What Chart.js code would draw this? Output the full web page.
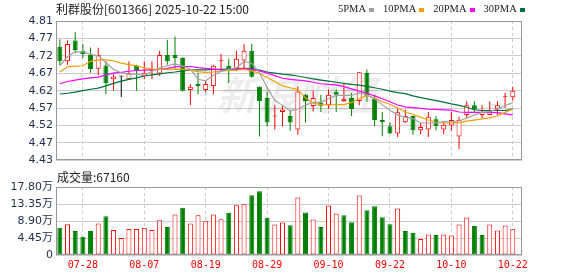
<!DOCTYPE html>
<html>
<head>
<meta charset="utf-8">
<script src="https://cdn.jsdelivr.net/npm/chart.js@4.4.1/dist/chart.umd.min.js"></script>
<style>
    body { margin: 0; background: #fff; }
    #wrap { position: relative; width: 578px; height: 276px; overflow: hidden; }
    #kline { position: absolute; left: 0; top: 0; }
    #vol { position: absolute; left: 0; top: 170px; }
</style>
</head>
<body>
<div id="wrap">
    <canvas id="kline" width="578" height="170"></canvas>
    <canvas id="vol" width="578" height="106"></canvas>
</div>
<script>
// --- dados ---
const titulo = '利群股份[601366] 2025-10-22 15:00';

const dias = ['07-23','07-24','07-25','07-28','07-29','07-30','07-31','08-01','08-04','08-05',
    '08-06','08-07','08-08','08-11','08-12','08-13','08-14','08-15','08-18','08-19',
    '08-20','08-21','08-22','08-25','08-26','08-27','08-28','08-29','09-01','09-02',
    '09-03','09-04','09-05','09-08','09-09','09-10','09-11','09-12','09-15','09-16',
    '09-17','09-18','09-19','09-22','09-23','09-24','09-25','09-26','09-29','09-30',
    '10-09','10-10','10-13','10-14','10-15','10-16','10-17','10-20','10-21','10-22'];
const diasEixo = ['07-28','08-07','08-19','08-29','09-10','09-22','10-10','10-22'];

const abertura = [4.740,4.700,4.757,4.729,4.717,4.680,4.689,4.651,4.659,4.651,
    4.688,4.660,4.673,4.667,4.717,4.717,4.709,4.622,4.638,4.622,
    4.633,4.700,4.688,4.678,4.702,4.729,4.631,4.600,4.550,4.562,
    4.551,4.514,4.609,4.578,4.587,4.580,4.617,4.592,4.600,4.592,
    4.668,4.598,4.540,4.523,4.503,4.534,4.551,4.512,4.514,4.542,
    4.514,4.525,4.495,4.554,4.580,4.554,4.554,4.571,4.602,4.602];
const maximas = [4.760,4.757,4.779,4.747,4.738,4.737,4.700,4.667,4.660,4.700,
    4.691,4.700,4.700,4.729,4.759,4.768,4.711,4.638,4.669,4.647,
    4.691,4.720,4.707,4.729,4.747,4.747,4.632,4.618,4.580,4.580,
    4.567,4.631,4.611,4.620,4.609,4.623,4.624,4.638,4.614,4.671,
    4.678,4.609,4.562,4.534,4.571,4.569,4.552,4.532,4.562,4.551,
    4.536,4.562,4.549,4.591,4.591,4.580,4.591,4.591,4.614,4.631];
const minimas = [4.690,4.691,4.722,4.709,4.669,4.662,4.611,4.620,4.603,4.651,
    4.620,4.651,4.651,4.660,4.691,4.678,4.618,4.581,4.610,4.616,
    4.610,4.673,4.642,4.673,4.678,4.655,4.495,4.522,4.514,4.523,
    4.511,4.500,4.533,4.563,4.562,4.571,4.562,4.590,4.551,4.580,
    4.590,4.523,4.496,4.502,4.494,4.532,4.500,4.501,4.494,4.512,
    4.501,4.511,4.461,4.545,4.562,4.545,4.553,4.554,4.573,4.593];
const fecho = [4.700,4.747,4.731,4.720,4.679,4.717,4.640,4.659,4.659,4.667,
    4.673,4.669,4.679,4.717,4.700,4.709,4.620,4.631,4.632,4.638,
    4.688,4.702,4.678,4.707,4.729,4.658,4.591,4.533,4.551,4.569,
    4.533,4.618,4.592,4.600,4.579,4.609,4.609,4.598,4.570,4.670,
    4.605,4.540,4.534,4.503,4.561,4.551,4.512,4.521,4.549,4.523,
    4.527,4.540,4.540,4.580,4.569,4.562,4.561,4.580,4.604,4.620];

const ma5 = [4.688,4.713,4.726,4.726,4.719,4.715,4.697,4.678,4.669,4.665,
    4.665,4.662,4.673,4.682,4.688,4.693,4.687,4.679,4.651,4.647,
    4.662,4.673,4.678,4.682,4.700,4.695,4.669,4.629,4.594,4.580,
    4.565,4.570,4.581,4.588,4.588,4.598,4.607,4.607,4.607,4.614,
    4.609,4.598,4.582,4.567,4.554,4.548,4.544,4.532,4.532,4.532,
    4.536,4.535,4.538,4.545,4.554,4.561,4.563,4.570,4.579,4.588];
const ma10 = [4.671,4.685,4.687,4.688,4.700,4.704,4.704,4.701,4.695,4.691,
    4.688,4.682,4.679,4.678,4.678,4.679,4.678,4.676,4.672,4.670,
    4.671,4.673,4.675,4.676,4.678,4.674,4.667,4.656,4.645,4.633,
    4.628,4.623,4.600,4.586,4.582,4.581,4.582,4.582,4.588,4.598,
    4.607,4.600,4.590,4.583,4.573,4.562,4.555,4.548,4.540,4.534,
    4.532,4.532,4.533,4.537,4.540,4.543,4.546,4.551,4.561,4.570];
const ma20 = [4.639,4.645,4.649,4.652,4.655,4.657,4.663,4.668,4.670,4.673,
    4.675,4.676,4.677,4.678,4.681,4.685,4.686,4.686,4.683,4.681,
    4.679,4.677,4.676,4.678,4.681,4.678,4.674,4.668,4.661,4.654,
    4.651,4.649,4.647,4.643,4.639,4.637,4.636,4.631,4.625,4.619,
    4.613,4.606,4.598,4.590,4.581,4.576,4.574,4.572,4.570,4.569,
    4.568,4.567,4.562,4.561,4.561,4.561,4.561,4.560,4.557,4.554];
const ma30 = [4.611,4.613,4.616,4.620,4.624,4.627,4.633,4.640,4.646,4.651,
    4.655,4.660,4.663,4.666,4.669,4.671,4.674,4.676,4.677,4.677,
    4.678,4.678,4.679,4.680,4.681,4.680,4.676,4.671,4.668,4.665,
    4.663,4.660,4.656,4.652,4.649,4.646,4.643,4.640,4.637,4.635,
    4.632,4.628,4.624,4.619,4.615,4.612,4.606,4.601,4.597,4.593,
    4.589,4.584,4.580,4.575,4.568,4.566,4.566,4.566,4.566,4.570];

// volume em 万 (10 mil)
const volume = [7.12,8.08,6.25,4.78,6.25,8.25,10.16,6.52,4.43,6.78,
    6.78,7.12,6.52,9.12,7.30,10.60,12.34,8.25,10.42,8.86,
    10.60,9.38,11.03,13.03,13.29,15.64,16.68,9.73,7.99,8.51,
    7.82,15.03,11.12,9.30,7.30,12.94,10.86,10.42,8.60,15.55,
    11.73,12.77,9.90,8.08,12.16,6.25,5.73,4.17,5.39,5.21,
    5.39,5.13,7.99,9.82,7.56,5.21,7.99,6.43,7.73,6.716];
// 1 = barra vermelha (subida), 0 = verde
const volSobe = [0,1,0,0,0,1,0,1,1,1, 1,1,1,1,0,1,0,1,1,1, 1,1,0,1,1,0,0,0,1,1,
    0,1,0,1,0,1,1,0,0,1, 0,0,0,0,1,0,0,1,1,0, 1,1,1,1,0,0,1,1,1,1];

const precoMin = 4.43, precoMax = 4.81;
const precoTicks = ['4.43','4.47','4.52','4.57','4.62','4.67','4.72','4.77','4.81'];
const volMax = 17.8;
const volTicks = ['0','4.45万','8.90万','13.35万','17.80万'];
const mediasNomes = ['5PMA','10PMA','20PMA','30PMA'];

// --- cores ---
const VERMELHO = '#ff0000', VERDE = '#008000', PRETO = '#000000';
const coresMedias = ['#a0a0a0', '#f2a000', '#ff00ff', '#006f3a'];
const corTicks = '#1f2d4d';
const corGrelha = '#cccccc';

const posEixo = diasEixo.map(d => dias.indexOf(d));

function corVela(i) {
    if (fecho[i] > abertura[i]) return VERMELHO;
    if (fecho[i] < abertura[i]) return VERDE;
    return PRETO;
}
const coresVelas = dias.map((d, i) => corVela(i));
const fundoVelas = dias.map((d, i) => coresVelas[i] === VERDE ? VERDE : '#ffffff');

const molduraPlugin = {
    id: 'moldura',
    afterDraw(chart) {
        const { ctx, chartArea: a } = chart;
        ctx.save();
        ctx.strokeStyle = '#999999';
        ctx.lineWidth = 1;
        ctx.strokeRect(Math.round(a.left) + 0.5, Math.round(a.top) + 0.5,
            Math.round(a.right - a.left) - 1, Math.round(a.bottom - a.top) - 1);
        ctx.restore();
    }
};

const cabecalhoPlugin = {
    id: 'cabecalho',
    beforeDatasetsDraw(chart) {
        // marca de água
        const ctx = chart.ctx;
        ctx.save();
        ctx.font = 'italic bold 40px "Noto Sans CJK SC"';
        ctx.fillStyle = 'rgba(0,0,0,0.07)';
        ctx.textBaseline = 'alphabetic';
        ctx.fillText('新浪财经', 217, 110);
        ctx.restore();
    },
    afterDraw(chart) {
        const ctx = chart.ctx;
        ctx.save();
        ctx.textBaseline = 'alphabetic';
        ctx.font = '12px "Noto Sans CJK SC"';
        ctx.fillStyle = '#222222';
        ctx.fillText(titulo, 56, 14);

        ctx.font = '10.5px "Liberation Serif"';
        let x = 338;
        mediasNomes.forEach((nome, k) => {
            ctx.fillStyle = '#222222';
            ctx.fillText(nome, x, 12);
            x += ctx.measureText(nome).width + 3;
            ctx.fillStyle = coresMedias[k];
            ctx.fillRect(Math.round(x), 8, 5, 4);
            x += 5 + 9;
        });
        ctx.restore();
    }
};

const volCabecalhoPlugin = {
    id: 'volCabecalho',
    afterDraw(chart) {
        const ctx = chart.ctx;
        ctx.save();
        ctx.textBaseline = 'alphabetic';
        ctx.font = '12px "Noto Sans CJK SC"';
        ctx.fillStyle = '#222222';
        ctx.fillText('成交量:' + Math.round(volume[volume.length - 1] * 10000), 57, 12);
        ctx.restore();
    }
};

function eixoX(mostrarLabels) {
    return {
        type: 'linear',
        offset: false,
        min: -0.5,
        max: 60.2,
        afterBuildTicks: s => { s.ticks = posEixo.map(v => ({ value: v })); },
        afterFit: s => { s.height = mostrarLabels ? 21 : 0; },
        ticks: {
            display: mostrarLabels,
            autoSkip: false,
            maxRotation: 0,
            padding: 4,
            color: VERMELHO,
            font: { family: '"DejaVu Sans Mono"', size: 10 },
            callback: (v, k) => diasEixo[k]
        },
        grid: { color: corGrelha, drawTicks: false, offset: false },
        border: { display: false, dash: [3, 3] }
    };
}

// --- gráfico de velas ---
new Chart(document.getElementById('kline'), {
    data: {
        datasets: [
            ...mediasNomes.map((nome, k) => ({
                type: 'line',
                label: nome,
                data: [ma5, ma10, ma20, ma30][k].map((v, i) => ({ x: i, y: v })),
                borderColor: coresMedias[k],
                borderWidth: 1.2,
                pointRadius: 0,
                order: 0
            })),
            {
                type: 'bar',
                label: 'corpo',
                data: abertura.map((o, i) => ({ x: i, y: [o, fecho[i]] })),
                backgroundColor: fundoVelas,
                borderColor: coresVelas,
                borderWidth: 1,
                borderSkipped: false,
                minBarLength: 1,
                grouped: false,
                barPercentage: 0.8,
                categoryPercentage: 1,
                maxBarThickness: 5,
                order: 1
            },
            {
                type: 'bar',
                label: 'sombra',
                data: abertura.map((o, i) => ({ x: i, y: [minimas[i], maximas[i]] })),
                backgroundColor: coresVelas,
                borderWidth: 0,
                grouped: false,
                barPercentage: 0.5,
                categoryPercentage: 1,
                maxBarThickness: 1,
                order: 2
            }
        ]
    },
    options: {
        responsive: false,
        animation: false,
        devicePixelRatio: 1,
        layout: { padding: { top: 21, right: 56, bottom: 5, left: 0 } },
        plugins: { legend: { display: false }, tooltip: { enabled: false } },
        scales: {
            x: eixoX(false),
            y: {
                min: precoMin,
                max: precoMax,
                afterBuildTicks: s => {
                    s.ticks = precoTicks.map((t, k) => ({ value: precoMin + k * (precoMax - precoMin) / (precoTicks.length - 1) }));
                },
                afterFit: s => { s.width = 56; },
                ticks: {
                    autoSkip: false,
                    padding: 3,
                    color: corTicks,
                    font: { family: '"DejaVu Sans"', size: 11 },
                    callback: (v, k) => precoTicks[k]
                },
                grid: { color: corGrelha, drawTicks: false },
                border: { display: false }
            }
        }
    },
    plugins: [cabecalhoPlugin, molduraPlugin]
});

// --- gráfico de volume ---
new Chart(document.getElementById('vol'), {
    type: 'bar',
    data: {
        datasets: [{
            label: '成交量',
            data: volume.map((v, i) => ({ x: i, y: v })),
            backgroundColor: volSobe.map(s => s ? '#ffffff' : VERDE),
            borderColor: volSobe.map(s => s ? VERMELHO : VERDE),
            borderWidth: 1,
            borderSkipped: false,
            grouped: false,
            barPercentage: 0.8,
            categoryPercentage: 1,
            maxBarThickness: 5
        }]
    },
    options: {
        responsive: false,
        animation: false,
        devicePixelRatio: 1,
        layout: { padding: { top: 17, right: 56, bottom: 0, left: 0 } },
        plugins: { legend: { display: false }, tooltip: { enabled: false } },
        scales: {
            x: eixoX(true),
            y: {
                min: 0,
                max: volMax,
                afterBuildTicks: s => {
                    s.ticks = volTicks.map((t, k) => ({ value: k * volMax / (volTicks.length - 1) }));
                },
                afterFit: s => { s.width = 56; },
                ticks: {
                    autoSkip: false,
                    padding: 3,
                    color: corTicks,
                    font: { family: '"DejaVu Sans", "Noto Sans CJK SC"', size: 11 },
                    callback: (v, k) => volTicks[k]
                },
                grid: { color: corGrelha, drawTicks: false },
                border: { display: false }
            }
        }
    },
    plugins: [volCabecalhoPlugin, molduraPlugin]
});
</script>
</body>
</html>
